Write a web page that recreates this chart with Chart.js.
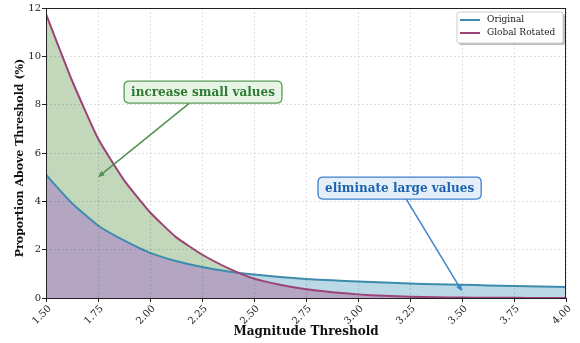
<!DOCTYPE html>
<html>
<head>
<meta charset="utf-8">
<script src="https://cdn.jsdelivr.net/npm/chart.js@4"></script>
<style>
  html, body { margin: 0; padding: 0; background: #fff; }
  #wrap { width: 580px; height: 343px; }
</style>
</head>
<body>
<div id="wrap"><canvas id="chart" width="580" height="343"></canvas></div>
<script>
// Data
const thresholds = [1.5, 1.625, 1.75, 1.875, 2.0, 2.125, 2.25, 2.375, 2.5, 2.625, 2.75,
                    2.875, 3.0, 3.125, 3.25, 3.375, 3.5, 3.625, 3.75, 3.875, 4.0];
const original = [5.1, 3.92, 3.0, 2.38, 1.87, 1.53, 1.28, 1.1, 0.97, 0.87, 0.79,
                  0.73, 0.68, 0.64, 0.6, 0.57, 0.55, 0.52, 0.5, 0.48, 0.46];
const rotated = [11.75, 9.0, 6.6, 4.88, 3.55, 2.52, 1.8, 1.24, 0.8, 0.55, 0.36,
                 0.24, 0.15, 0.09, 0.05, 0.03, 0.02, 0.01, 0.01, 0.0, 0.0];
const seriesNames = ['Original', 'Global Rotated'];
const xTicks = [1.5, 1.75, 2.0, 2.25, 2.5, 2.75, 3.0, 3.25, 3.5, 3.75, 4.0];
const yTicks = [0, 2, 4, 6, 8, 10, 12];
const xTitle = 'Magnitude Threshold';
const yTitle = 'Proportion Above Threshold (%)';

// Colors
const blueLine = '#3d8cae';
const purpleLine = '#9c4377';
const purpleFill = '#b4a6c3';
const greenFill = '#c3d7bb';
const blueFill = '#bad8e5';

const serif = '"DejaVu Serif", serif';

// Callouts (text anchor and arrow tip in data units)
const callouts = [
    { text: 'increase small values', at: [2.255, 8.52], tip: [1.75, 5.0],
      color: '#2e7d32', fill: '#e8f4e6', edge: '#5a9a5a', arrow: '#4f9150' },
    { text: 'eliminate large values', at: [3.2, 4.55], tip: [3.5, 0.28],
      color: '#1f63b0', fill: '#e4eff9', edge: '#3c7fcc', arrow: '#3c84c8' }
];

function toPoints(values) {
    return thresholds.map((x, i) => ({ x: x, y: values[i] }));
}

function drawArrow(ctx, x1, y1, x2, y2, color) {
    const ang = Math.atan2(y2 - y1, x2 - x1);
    const head = 7;
    ctx.save();
    ctx.strokeStyle = color;
    ctx.fillStyle = color;
    ctx.lineWidth = 1.5;
    ctx.beginPath();
    ctx.moveTo(x1, y1);
    ctx.lineTo(x2 - Math.cos(ang) * head * 0.8, y2 - Math.sin(ang) * head * 0.8);
    ctx.stroke();
    ctx.beginPath();
    ctx.moveTo(x2, y2);
    ctx.lineTo(x2 - head * Math.cos(ang - 0.4), y2 - head * Math.sin(ang - 0.4));
    ctx.lineTo(x2 - head * Math.cos(ang + 0.4), y2 - head * Math.sin(ang + 0.4));
    ctx.closePath();
    ctx.fill();
    ctx.restore();
}

function roundRect(ctx, x, y, w, h, r) {
    ctx.beginPath();
    ctx.moveTo(x + r, y);
    ctx.lineTo(x + w - r, y);
    ctx.quadraticCurveTo(x + w, y, x + w, y + r);
    ctx.lineTo(x + w, y + h - r);
    ctx.quadraticCurveTo(x + w, y + h, x + w - r, y + h);
    ctx.lineTo(x + r, y + h);
    ctx.quadraticCurveTo(x, y + h, x, y + h - r);
    ctx.lineTo(x, y + r);
    ctx.quadraticCurveTo(x, y, x + r, y);
    ctx.closePath();
}

// Frame, axis titles, callouts and the in-plot legend
const overlayPlugin = {
    id: 'overlay',
    afterDraw(chart) {
        const ctx = chart.ctx;
        const area = chart.chartArea;
        const xs = chart.scales.x, ys = chart.scales.y;

        // axes frame
        ctx.save();
        ctx.strokeStyle = '#222';
        ctx.lineWidth = 1;
        ctx.strokeRect(area.left + 0.5, area.top + 0.5, area.right - area.left - 1, area.bottom - area.top);
        ctx.restore();

        // axis titles
        ctx.save();
        ctx.fillStyle = '#111';
        ctx.textAlign = 'center';
        ctx.textBaseline = 'middle';
        ctx.font = 'bold 12px ' + serif;
        ctx.fillText(xTitle, (area.left + area.right) / 2, 332);
        ctx.font = 'bold 11px ' + serif;
        ctx.translate(20, 158);
        ctx.rotate(-Math.PI / 2);
        ctx.fillText(yTitle, 0, 0);
        ctx.restore();

        // callouts
        callouts.forEach(c => {
            const cx = xs.getPixelForValue(c.at[0]);
            const cy = ys.getPixelForValue(c.at[1]);
            const tx = xs.getPixelForValue(c.tip[0]);
            const ty = ys.getPixelForValue(c.tip[1]);
            ctx.save();
            ctx.font = 'bold 12px ' + serif;
            const w = ctx.measureText(c.text).width + 14;
            const h = 22;
            // arrow starts where the line to the tip leaves the box
            const dx = tx - cx, dy = ty - cy;
            const t = Math.min(Math.abs((h / 2) / dy), Math.abs((w / 2) / dx));
            drawArrow(ctx, cx + dx * t, cy + dy * t, tx, ty, c.arrow);
            roundRect(ctx, cx - w / 2, cy - h / 2, w, h, 5);
            ctx.fillStyle = c.fill;
            ctx.fill();
            ctx.lineWidth = 1.3;
            ctx.strokeStyle = c.edge;
            ctx.stroke();
            ctx.fillStyle = c.color;
            ctx.textAlign = 'center';
            ctx.textBaseline = 'middle';
            ctx.fillText(c.text, cx, cy + 1);
            ctx.restore();
        });

        // legend
        const lx = area.right - 109, ly = area.top + 4, lw = 106, lh = 31;
        ctx.save();
        ctx.fillStyle = 'rgba(0,0,0,0.25)';
        roundRect(ctx, lx + 2, ly + 2, lw, lh, 2);
        ctx.fill();
        ctx.fillStyle = '#fff';
        roundRect(ctx, lx, ly, lw, lh, 2);
        ctx.fill();
        ctx.strokeStyle = '#cccccc';
        ctx.lineWidth = 1;
        ctx.stroke();
        ctx.font = '9px ' + serif;
        ctx.textBaseline = 'middle';
        [blueLine, purpleLine].forEach((col, i) => {
            const yy = ly + 8 + i * 13;
            ctx.strokeStyle = col;
            ctx.lineWidth = 2;
            ctx.beginPath();
            ctx.moveTo(lx + 3, yy);
            ctx.lineTo(lx + 23, yy);
            ctx.stroke();
            ctx.fillStyle = '#222';
            ctx.fillText(seriesNames[i], lx + 30, yy);
        });
        ctx.restore();
    }
};

new Chart(document.getElementById('chart'), {
    type: 'line',
    data: {
        datasets: [
            {
                label: seriesNames[0],
                data: toPoints(original),
                borderColor: blueLine,
                borderWidth: 2,
                backgroundColor: purpleFill,
                fill: { target: 'origin', above: purpleFill },
                pointRadius: 0,
                tension: 0.15,
                order: 2
            },
            {
                label: seriesNames[1],
                data: toPoints(rotated),
                borderColor: purpleLine,
                borderWidth: 2,
                backgroundColor: greenFill,
                fill: { target: 0, above: greenFill, below: blueFill },
                pointRadius: 0,
                tension: 0.15,
                order: 1
            }
        ]
    },
    options: {
        responsive: false,
        animation: false,
        layout: { padding: { left: 0, right: 14, top: 8, bottom: 0 } },
        plugins: {
            legend: { display: false },
            tooltip: { enabled: false },
            filler: { drawTime: 'beforeDatasetsDraw' }
        },
        scales: {
            x: {
                type: 'linear',
                min: 1.5,
                max: 4.0,
                afterBuildTicks: scale => { scale.ticks = xTicks.map(v => ({ value: v })); },
                afterFit: scale => { scale.height = 45; },
                ticks: {
                    font: { family: serif, size: 10 },
                    color: '#222',
                    maxRotation: 45,
                    minRotation: 45,
                    padding: 1,
                    labelOffset: 4,
                    callback: v => v.toFixed(2)
                },
                grid: { color: 'rgba(0,0,0,0.12)', z: 1, tickColor: '#222', tickLength: 4 },
                border: { display: false, dash: [2, 2] }
            },
            y: {
                min: 0,
                max: 12,
                afterBuildTicks: scale => { scale.ticks = yTicks.map(v => ({ value: v })); },
                afterFit: scale => { scale.width = 46; },
                ticks: {
                    font: { family: serif, size: 10 },
                    color: '#222',
                    padding: 1
                },
                grid: { color: 'rgba(0,0,0,0.12)', z: 1, tickColor: '#222', tickLength: 4 },
                border: { display: false, dash: [2, 2] }
            }
        }
    },
    plugins: [overlayPlugin]
});
</script>
</body>
</html>
